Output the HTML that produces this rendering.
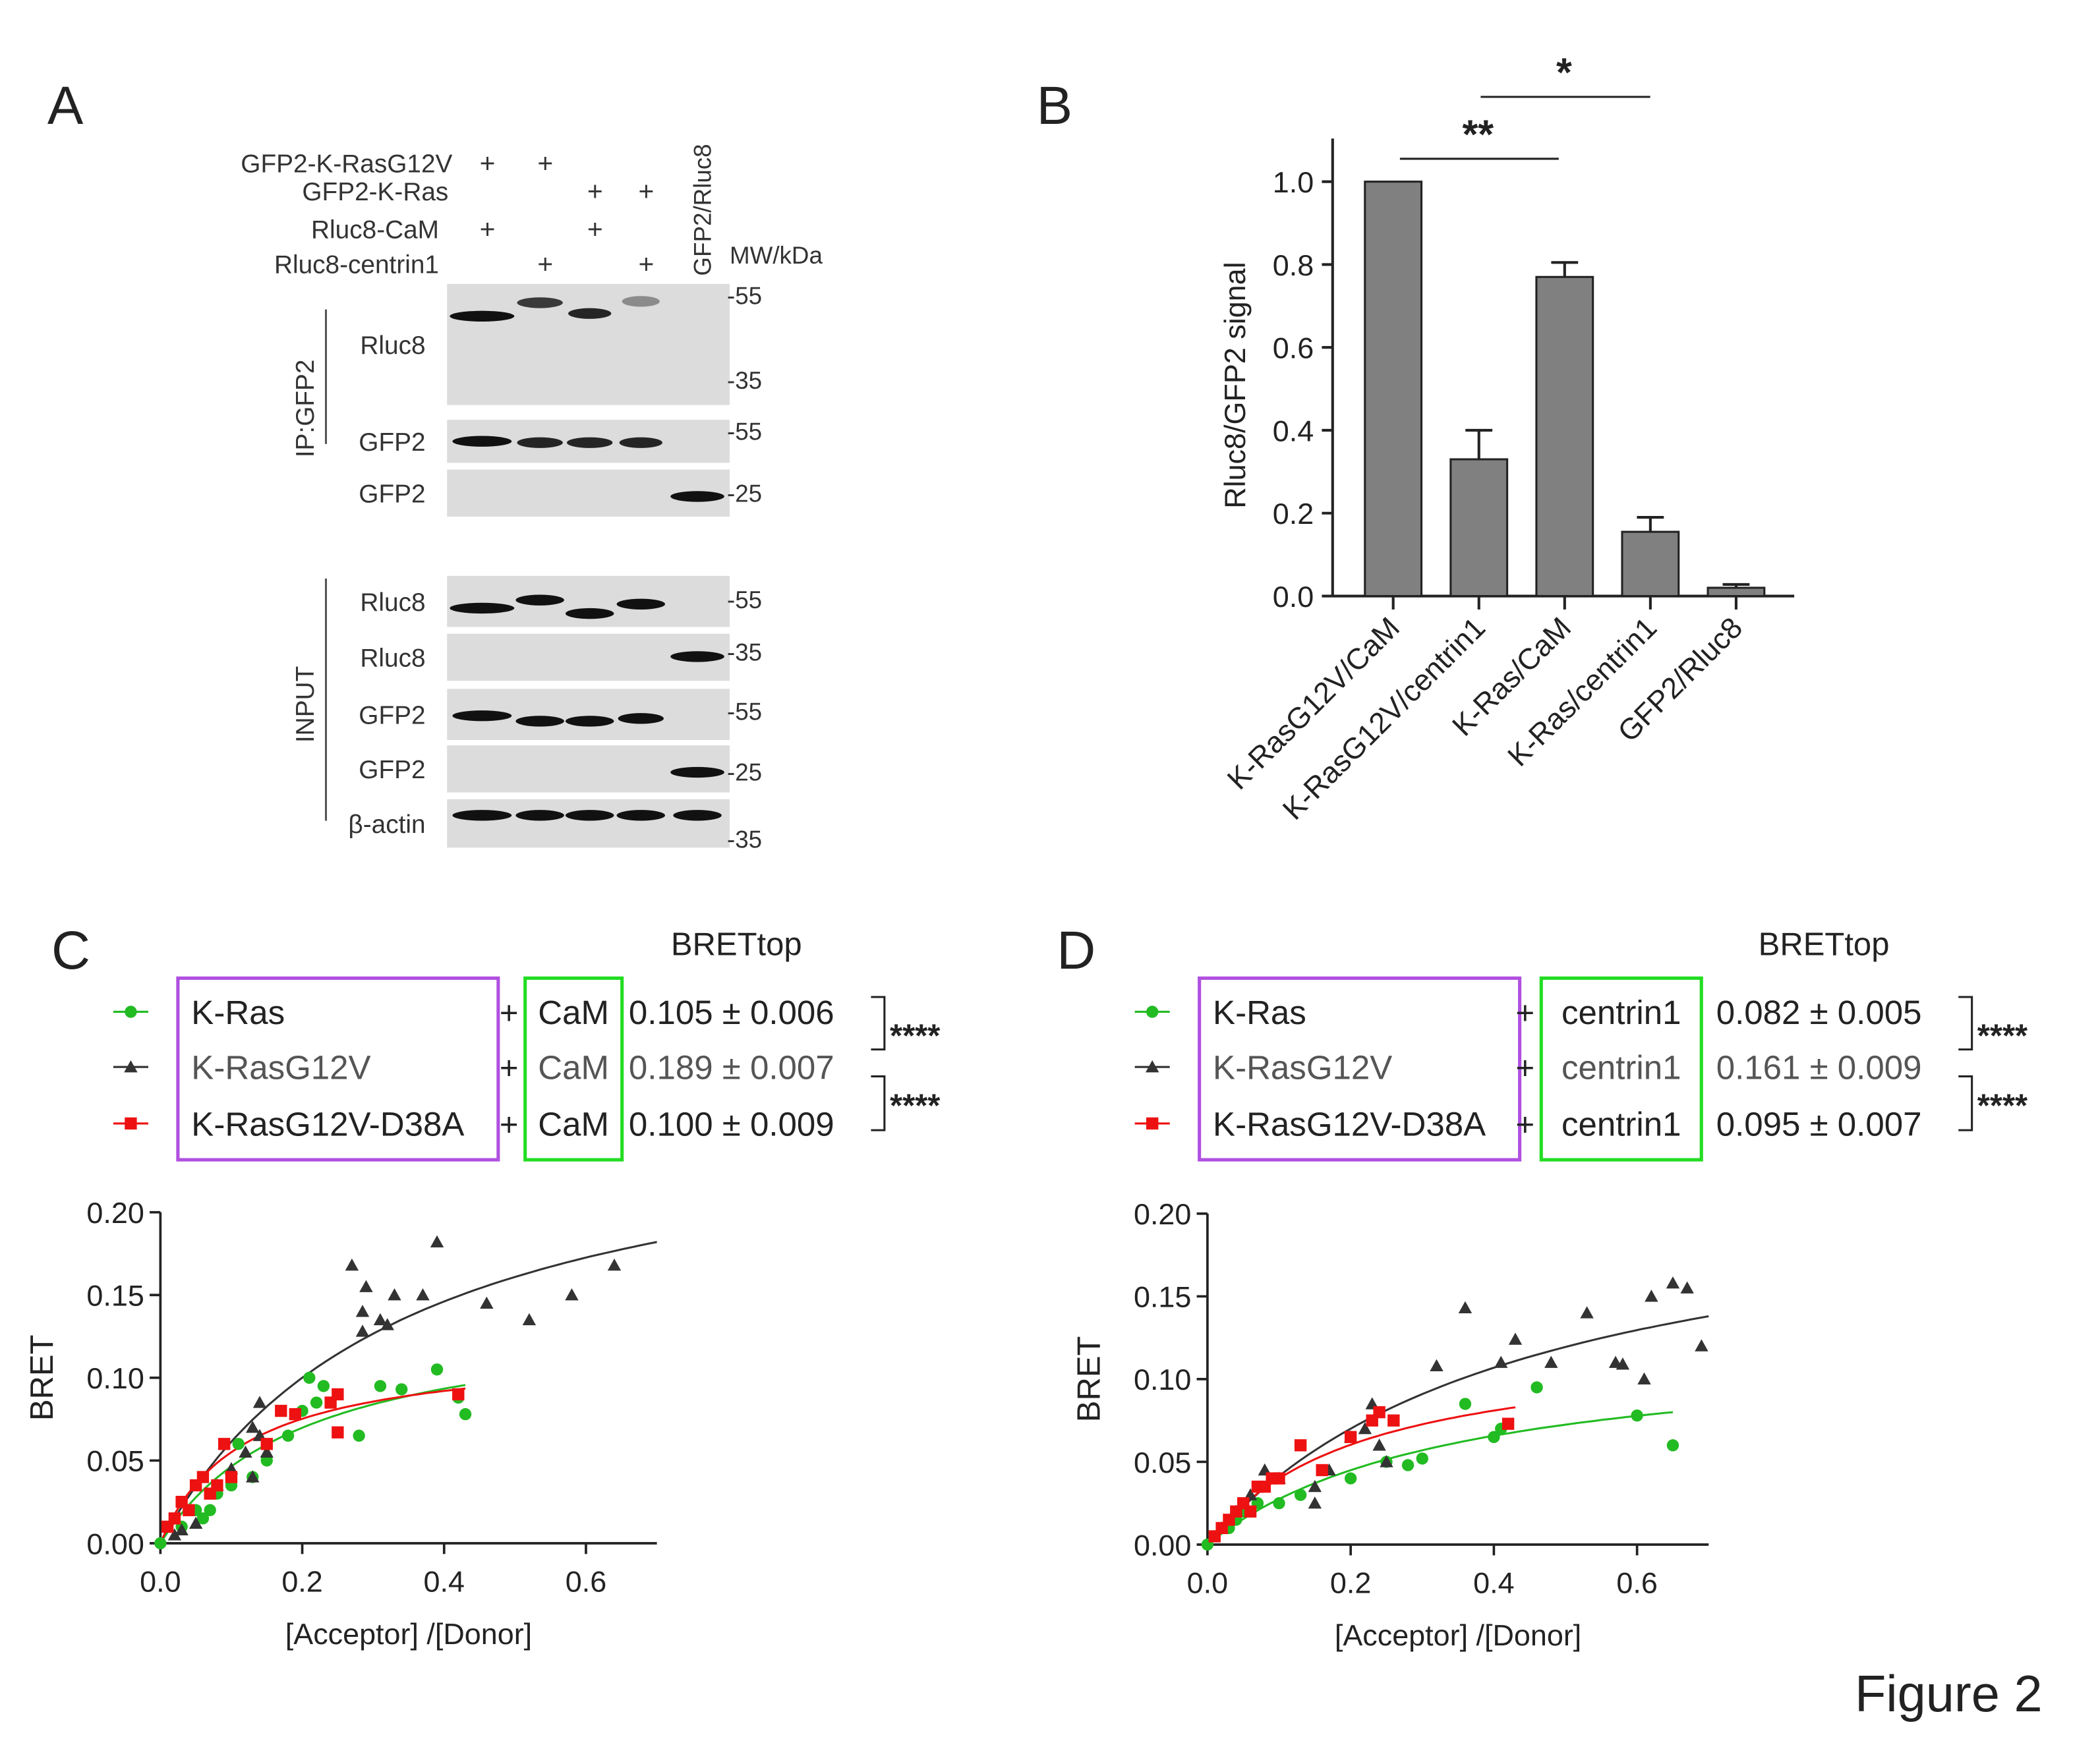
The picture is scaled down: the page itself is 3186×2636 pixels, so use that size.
<!DOCTYPE html>
<html><head><meta charset="utf-8"><style>
html,body{margin:0;padding:0;background:#fff;}
svg{display:block;font-family:"Liberation Sans",Arial,sans-serif;}
</style></head><body>
<svg id="fig" width="3186" height="2636" viewBox="0 0 1560 1291" xmlns="http://www.w3.org/2000/svg">
<rect width="1560" height="1291" fill="#fff"/>
<g font-size="22" fill="#222">
<text x="35" y="92" font-size="40">A</text>
<text x="770" y="92" font-size="40">B</text>
<text x="38" y="720" font-size="40">C</text>
<text x="785" y="720" font-size="40">D</text>
<text x="1378" y="1272" font-size="38">Figure 2</text>
</g>
<g id="blot"></g>
<g id="barB"></g>
<g id="chC"></g>
<g id="chD"></g>
</svg>
<script>
// ---- Panel B data ----
const barCats=["K-RasG12V/CaM","K-RasG12V/centrin1","K-Ras/CaM","K-Ras/centrin1","GFP2/Rluc8"];
const barVals=[1.0,0.33,0.77,0.155,0.02];
const barErrs=[0,0.07,0.035,0.035,0.008];
const barTicks=[0,0.2,0.4,0.6,0.8,1.0];
// ---- Panel C data ----
const cGreenX=[0,0.03,0.05,0.06,0.07,0.08,0.1,0.11,0.13,0.15,0.18,0.2,0.21,0.22,0.23,0.28,0.31,0.34,0.39,0.42,0.43];
const cGreenY=[0,0.01,0.02,0.015,0.02,0.03,0.035,0.06,0.04,0.05,0.065,0.08,0.1,0.085,0.095,0.065,0.095,0.093,0.105,0.088,0.078];
const cBlackX=[0.27,0.29,0.285,0.285,0.31,0.32,0.33,0.37,0.39,0.46,0.52,0.58,0.64,0.02,0.03,0.05,0.08,0.1,0.13,0.14,0.14,0.13,0.15,0.12];
const cBlackY=[0.168,0.155,0.14,0.128,0.135,0.132,0.15,0.15,0.182,0.145,0.135,0.15,0.168,0.005,0.008,0.012,0.035,0.045,0.07,0.085,0.065,0.04,0.055,0.055];
const cRedX=[0.01,0.02,0.03,0.04,0.05,0.06,0.07,0.08,0.09,0.1,0.15,0.17,0.19,0.24,0.25,0.25,0.42];
const cRedY=[0.01,0.015,0.025,0.02,0.035,0.04,0.03,0.035,0.06,0.04,0.06,0.08,0.078,0.085,0.09,0.067,0.09];
const cFitBmax=[0.141,0.271,0.1186]; const cFitK=[0.204,0.342,0.1155]; const cFitEnd=[0.43,0.7,0.43];
// ---- Panel D data ----
const dGreenX=[0,0.01,0.03,0.04,0.05,0.07,0.1,0.13,0.2,0.25,0.28,0.3,0.36,0.4,0.41,0.46,0.6,0.65];
const dGreenY=[0,0.005,0.01,0.015,0.02,0.025,0.025,0.03,0.04,0.05,0.048,0.052,0.085,0.065,0.07,0.095,0.078,0.06];
const dBlackX=[0.08,0.1,0.15,0.15,0.17,0.2,0.22,0.23,0.24,0.25,0.32,0.36,0.41,0.43,0.48,0.53,0.57,0.58,0.61,0.62,0.65,0.67,0.69,0.04,0.02,0.06];
const dBlackY=[0.045,0.04,0.035,0.025,0.045,0.065,0.07,0.085,0.06,0.05,0.108,0.143,0.11,0.124,0.11,0.14,0.11,0.109,0.1,0.15,0.158,0.155,0.12,0.02,0.01,0.03];
const dRedX=[0.01,0.02,0.03,0.04,0.05,0.06,0.07,0.08,0.09,0.1,0.13,0.16,0.2,0.23,0.24,0.26,0.42];
const dRedY=[0.005,0.01,0.015,0.02,0.025,0.02,0.035,0.035,0.04,0.04,0.06,0.045,0.065,0.075,0.08,0.075,0.073];
const dFitBmax=[0.1225,0.2255,0.123]; const dFitK=[0.345,0.444,0.2077]; const dFitEnd=[0.65,0.7,0.43];
const xTicks=[0,0.2,0.4,0.6]; const yTicks=[0,0.05,0.1,0.15,0.2];

const NS="http://www.w3.org/2000/svg";
function mk(parent,tag,attrs,text){const e=document.createElementNS(NS,tag);for(const k in attrs)e.setAttribute(k,attrs[k]);if(text!==undefined)e.textContent=text;parent.appendChild(e);return e;}

// ---- Blot ----
const blot=document.getElementById('blot');
const laneX=[358,401,438,476,518];
const hdr=[["GFP2-K-RasG12V",128,[1,1,0,0]],["GFP2-K-Ras",149,[0,0,1,1]],["Rluc8-CaM",177,[1,0,1,0]],["Rluc8-centrin1",203,[0,1,0,1]]];
hdr.forEach((h,i)=>{
 let t=mk(blot,'text',{x:h[0]==="GFP2-K-RasG12V"?336:(h[0]==="GFP2-K-Ras"?333:326),y:h[1],'text-anchor':'end','font-size':19,fill:'#333'},h[0]);
 
 
 h[2].forEach((v,j)=>{if(v){let p=mk(blot,'text',{x:laneX[j]+4,y:h[1],'text-anchor':'middle','font-size':20,fill:'#333'},'+');
 
 }});
});
let t0=mk(blot,'text',{transform:'translate(528,205) rotate(-90)','font-size':18,fill:'#333'},'GFP2/Rluc8');


let t1=mk(blot,'text',{x:542,y:196,'font-size':18,fill:'#333'},'MW/kDa');


const strips=[
 [211,90,"Rluc8",[["-55",9],["-35",72]],[[0,48,1,24],[1,34,0.8,14],[2,32,0.9,22],[3,28,0.4,13]]],
 [312,32,"GFP2",[["-55",9]],[[0,44,1,16],[1,34,0.9,17],[2,34,0.9,17],[3,32,0.9,17]]],
 [349,35,"GFP2",[["-25",18]],[[4,40,1,20]]],
 [428,38,"Rluc8",[["-55",18]],[[0,48,1,24],[1,36,1,18],[2,36,1,28],[3,36,1,21]]],
 [471,35,"Rluc8",[["-35",14]],[[4,40,1,17]]],
 [512,38,"GFP2",[["-55",17]],[[0,44,1,20],[1,36,1,24],[2,36,1,24],[3,34,1,22]]],
 [554,35,"GFP2",[["-25",20]],[[4,40,1,20]]],
 [594,36,"β-actin",[["-35",30]],[[0,44,1,12],[1,36,1,12],[2,36,1,12],[3,36,1,12],[4,36,1,12]]]
];
strips.forEach(s=>{
 let r=mk(blot,'rect',{x:332,y:s[0],width:210,height:s[1],fill:'#dcdcdc'});
 
 
 let l=mk(blot,'text',{x:316,y:s[0]+s[1]/2+7,'text-anchor':'end','font-size':19,fill:'#333'},s[2]);
 
 
 s[3].forEach(m=>{let mm=mk(blot,'text',{x:540,y:s[0]+m[1]+6,'font-size':18,fill:'#333'},m[0]);
 
 });
 s[4].forEach(b=>{let e=mk(blot,'ellipse',{cx:laneX[b[0]],cy:s[0]+b[3],rx:b[1]/2,ry:4,fill:'#111','fill-opacity':b[2]});
 
 });
});
mk(blot,'line',{x1:242,y1:230,x2:242,y2:330,stroke:'#555','stroke-width':1.5});
mk(blot,'line',{x1:242,y1:430,x2:242,y2:610,stroke:'#555','stroke-width':1.5});
let ip=mk(blot,'text',{transform:'translate(233,340) rotate(-90)','font-size':19,fill:'#333'},'IP:GFP2');


let inp=mk(blot,'text',{transform:'translate(233,552) rotate(-90)','font-size':19,fill:'#333'},'INPUT');



// ---- Panel B ----
const B=document.getElementById('barB');
const bY=v=>443-v*308; const bX=i=>1035+i*63.7;
mk(B,'line',{x1:990,y1:103,x2:990,y2:443,stroke:'#222','stroke-width':2});
mk(B,'line',{x1:990,y1:443,x2:1333,y2:443,stroke:'#222','stroke-width':2});
barTicks.forEach(v=>{mk(B,'line',{x1:982,y1:bY(v),x2:990,y2:bY(v),stroke:'#222','stroke-width':2});
 let t=mk(B,'text',{x:976,y:bY(v)+8,'text-anchor':'end','font-size':22,fill:'#222'},v.toFixed(1));
 
 });
barCats.forEach((c,i)=>{
 const x=bX(i);
 let r=mk(B,'rect',{x:x-21,y:bY(barVals[i]),width:42,height:barVals[i]*308,fill:'#808080',stroke:'#222','stroke-width':1.5});
 
 
 if(barErrs[i]>0){const ye=bY(barVals[i]+barErrs[i]);
  mk(B,'line',{x1:x,y1:bY(barVals[i]),x2:x,y2:ye,stroke:'#222','stroke-width':2});
  mk(B,'line',{x1:x-10,y1:ye,x2:x+10,y2:ye,stroke:'#222','stroke-width':2});}
 mk(B,'line',{x1:x,y1:443,x2:x,y2:453,stroke:'#222','stroke-width':2});
 let t=mk(B,'text',{transform:`translate(${x+6},468) rotate(-45)`,'text-anchor':'end','font-size':22,fill:'#222'},c);
 
 
});
let by=mk(B,'text',{transform:'translate(925,378) rotate(-90)','font-size':22,fill:'#222'},'Rluc8/GFP2 signal');


mk(B,'line',{x1:1040,y1:118,x2:1158,y2:118,stroke:'#222','stroke-width':1.5});
mk(B,'line',{x1:1100,y1:72,x2:1226,y2:72,stroke:'#222','stroke-width':1.5});
let s1=mk(B,'text',{x:1098,y:110,'text-anchor':'middle','font-size':30,'font-weight':'bold',fill:'#222'},'**');


let s2=mk(B,'text',{x:1162,y:64,'text-anchor':'middle','font-size':30,'font-weight':'bold',fill:'#222'},'*');



// ---- BRET charts ----
function bret(g,ox,oy,ux,uy,xend,series,fits,legend){
 const X=v=>ox+v*ux, Y=v=>oy-v*uy;
 mk(g,'line',{x1:ox,y1:Y(0.2),x2:ox,y2:oy,stroke:'#222','stroke-width':1.8});
 mk(g,'line',{x1:ox,y1:oy,x2:X(xend),y2:oy,stroke:'#222','stroke-width':1.8});
 yTicks.forEach(v=>{mk(g,'line',{x1:ox-8,y1:Y(v),x2:ox,y2:Y(v),stroke:'#222','stroke-width':1.8});
  let t=mk(g,'text',{x:ox-12,y:Y(v)+8,'text-anchor':'end','font-size':22,fill:'#222'},v.toFixed(2));
  
  });
 xTicks.forEach(v=>{mk(g,'line',{x1:X(v),y1:oy,x2:X(v),y2:oy+8,stroke:'#222','stroke-width':1.8});
  let t=mk(g,'text',{x:X(v),y:oy+36,'text-anchor':'middle','font-size':22,fill:'#222'},v.toFixed(1));
  
  });
 let xt=mk(g,'text',{x:X(0.35),y:oy+75,'text-anchor':'middle','font-size':22,fill:'#222'},'[Acceptor] /[Donor]');
 
 
 let yt=mk(g,'text',{transform:`translate(${ox-80},${Y(0.1)}) rotate(-90)`,'text-anchor':'middle','font-size':24,fill:'#222'},'BRET');
 
 
 const cols=['#22bb22','#333','#ee1111'];
 [1,0,2].forEach(k=>{
  const [bm,kd,end]=fits[k]; let d='';
  for(let i=0;i<=60;i++){const x=end*i/60;d+=(i?'L':'M')+X(x).toFixed(1)+','+Y(bm*x/(kd+x)).toFixed(1);}
  let p=mk(g,'path',{d:d,fill:'none',stroke:cols[k],'stroke-width':1.5});
  
  
 });
 series.forEach((s,k)=>{
  s[0].forEach((xv,i)=>{const cx=X(xv),cy=Y(s[1][i]);let e;
   if(k===0)e=mk(g,'circle',{cx:cx,cy:cy,r:4.5,fill:cols[0]});
   else if(k===1)e=mk(g,'path',{d:`M${cx},${cy-5}L${cx+5},${cy+4}L${cx-5},${cy+4}Z`,fill:cols[1]});
   else e=mk(g,'rect',{x:cx-4.5,y:cy-4.5,width:9,height:9,fill:cols[2]});
   
   });
 });
 const [lx,partner,vals,bx,pw,vx]=legend;
 let ly=[752,793,835];
 mk(g,'rect',{x:lx+30,y:727,width:238,height:135,fill:'none',stroke:'#b050e0','stroke-width':2.5});
 mk(g,'rect',{x:bx,y:727,width:pw,height:135,fill:'none',stroke:'#22dd22','stroke-width':2.5});
 let bt=mk(g,'text',{x:vx+80,y:710,'text-anchor':'middle','font-size':24,fill:'#222'},'BRETtop');
 
 
 ['K-Ras','K-RasG12V','K-RasG12V-D38A'].forEach((n,k)=>{
  mk(g,'line',{x1:lx-18,y1:ly[k],x2:lx+8,y2:ly[k],stroke:cols[k],'stroke-width':1.5});
  const c=lx-5,cy=ly[k];let e;
  if(k===0)e=mk(g,'circle',{cx:c,cy:cy,r:4.5,fill:cols[0]});
  else if(k===1)e=mk(g,'path',{d:`M${c},${cy-5}L${c+5},${cy+4}L${c-5},${cy+4}Z`,fill:cols[1]});
  else e=mk(g,'rect',{x:c-4.5,y:cy-4.5,width:9,height:9,fill:cols[2]});
  
  
  let t=mk(g,'text',{x:lx+40,y:ly[k]+9,'font-size':25,fill:k===1?'#555':'#222'},n);
  
  
  let pl=mk(g,'text',{x:bx-12,y:ly[k]+9,'text-anchor':'middle','font-size':24,fill:'#222'},'+');
  
  
  let pt=mk(g,'text',{x:bx+pw/2,y:ly[k]+9,'text-anchor':'middle','font-size':25,fill:k===1?'#555':'#222'},partner);
  
  
  let v=mk(g,'text',{x:vx,y:ly[k]+9,'font-size':25,fill:k===1?'#555':'#222'},vals[k]);
  
  
 });
 const br=vx+180;
 mk(g,'path',{d:`M${br},741H${br+10}V780H${br}`,fill:'none',stroke:'#222','stroke-width':1.5});
 mk(g,'path',{d:`M${br},800H${br+10}V840H${br}`,fill:'none',stroke:'#222','stroke-width':1.5});
 let a1=mk(g,'text',{x:br+14,y:778,'font-size':24,'font-weight':'bold',fill:'#222'},'****');
 
 
 let a2=mk(g,'text',{x:br+14,y:830,'font-size':24,'font-weight':'bold',fill:'#222'},'****');
 
 
}
bret(document.getElementById('chC'),119,1147,527,1230,0.7,
 [[cGreenX,cGreenY],[cBlackX,cBlackY],[cRedX,cRedY]],
 [0,1,2].map(i=>[cFitBmax[i],cFitK[i],cFitEnd[i]]),
 [102,'CaM',['0.105 ± 0.006','0.189 ± 0.007','0.100 ± 0.009'],390,72,467]);
bret(document.getElementById('chD'),897,1148,532,1230,0.7,
 [[dGreenX,dGreenY],[dBlackX,dBlackY],[dRedX,dRedY]],
 [0,1,2].map(i=>[dFitBmax[i],dFitK[i],dFitEnd[i]]),
 [861,'centrin1',['0.082 ± 0.005','0.161 ± 0.009','0.095 ± 0.007'],1145,119,1275]);
</script>
</body></html>
